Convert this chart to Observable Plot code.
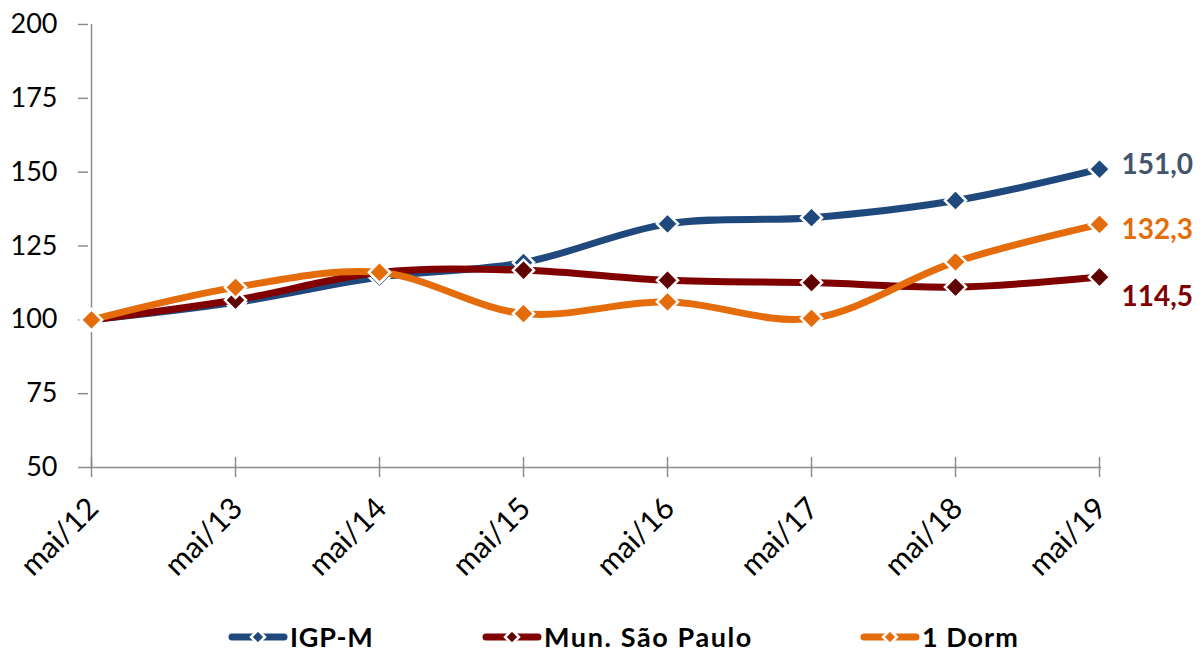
<!DOCTYPE html>
<html>
<head>
<meta charset="utf-8">
<script src="https://cdn.jsdelivr.net/npm/d3@7"></script>
<script src="https://cdn.jsdelivr.net/npm/@observablehq/plot@0.6"></script>
<style>
  html, body { margin: 0; padding: 0; background: #fff; }
  body { width: 1204px; height: 655px; position: relative; font-family: Lato, "Open Sans", sans-serif; }
  .item { position: absolute; top: 625px; height: 24px; display: flex; align-items: center; font-weight: bold; font-size: 27px; line-height: 24px; color: #000; white-space: nowrap; }
  .item svg { margin-right: 2px; }
</style>
</head>
<body>
<div id="chart"></div>
<div id="legend"></div>
<script>
const categories = ["mai/12", "mai/13", "mai/14", "mai/15", "mai/16", "mai/17", "mai/18", "mai/19"];
const igpm  = [100, 105.9, 114.5, 119.4, 132.5, 134.6, 140.4, 151.0];
const munSP = [100, 106.7, 116.0, 116.8, 113.4, 112.6, 111.1, 114.5];
const dorm  = [100, 111.0, 116.1, 102.1, 106.1, 100.5, 119.6, 132.3];
const seriesNames = ["IGP-M", "Mun. São Paulo", "1 Dorm"];
const seriesValues = [igpm, munSP, dorm];
const lineColors = ["#1F497D", "#800000", "#E46C0A"];
const markerColors = ["#1F497D", "#600000", "#E46C0A"];
const labelColors = ["#44546A", "#7F0000", "#E46C0A"];
const labelDy = [-4, 20, 6];
const yTicks = [50, 75, 100, 125, 150, 175, 200];
const yDomain = [50, 200];

const rows = [];
seriesNames.forEach((s, si) => seriesValues[si].forEach((v, i) => rows.push({series: s, si, date: categories[i], value: v})));

const fmt = v => v.toFixed(1).replace(".", ",");
const gray = "#8C8C8C";

const marks = [
  Plot.ruleY([yDomain[0]], {stroke: gray, strokeWidth: 1.5}),
  Plot.ruleX([categories[0]], {stroke: gray, strokeWidth: 1.5}),
  Plot.ruleX(categories, {x: d => d, y1: yDomain[0], y2: yDomain[0], insetTop: -10, insetBottom: -10, stroke: gray, strokeWidth: 1.5}),
  Plot.axisY({ticks: yTicks, tickSize: 10, tickPadding: 21, stroke: gray, strokeWidth: 1.5, fontSize: 27, fill: "#000", tickFormat: d => d, label: null}),
  Plot.axisX({tickSize: 0, tickRotate: -45, tickPadding: 36, dx: 2, fontSize: 30, fill: "#000", label: null})
];
seriesNames.forEach((s, si) => {
  const d = rows.filter(r => r.si === si);
  marks.push(Plot.line(d, {x: "date", y: "value", stroke: lineColors[si], strokeWidth: 7, curve: "catmull-rom"}));
  marks.push(Plot.dot(d, {x: "date", y: "value", symbol: "diamond2", r: 9.5, fill: markerColors[si], stroke: "#fff", strokeWidth: 2.5}));
});
seriesNames.forEach((s, si) => {
  const last = rows.filter(r => r.si === si).slice(-1);
  marks.push(Plot.text(last, {x: "date", y: "value", text: r => fmt(r.value), dx: 22, dy: labelDy[si], textAnchor: "start", fill: labelColors[si], fontWeight: "bold", fontSize: 28}));
});

const chart = Plot.plot({
  width: 1204,
  height: 605,
  marginLeft: 88,
  marginRight: 103,
  marginTop: 24,
  marginBottom: 138,
  style: {fontFamily: "Lato, 'Open Sans', sans-serif", background: "#fff", overflow: "visible"},
  x: {type: "point", domain: categories, padding: 0},
  y: {domain: yDomain},
  marks
});
document.getElementById("chart").appendChild(chart);

const legend = document.getElementById("legend");
const legendLeft = [228, 482, 860];
const legendSpacing = ["0.8px", "1.6px", "1px"];
seriesNames.forEach((s, si) => {
  const item = document.createElement("div");
  item.className = "item";
  item.style.left = legendLeft[si] + "px";
  item.style.letterSpacing = legendSpacing[si];
  item.innerHTML = `<svg width="60" height="20" viewBox="0 0 60 20">
    <line x1="4" y1="10" x2="56" y2="10" stroke="${lineColors[si]}" stroke-width="7" stroke-linecap="round"/>
    <path d="M30 3 L37 10 L30 17 L23 10 Z" fill="${markerColors[si]}" stroke="#fff" stroke-width="2.5"/>
  </svg><span>${s}</span>`;
  legend.appendChild(item);
});
</script>
</body>
</html>
